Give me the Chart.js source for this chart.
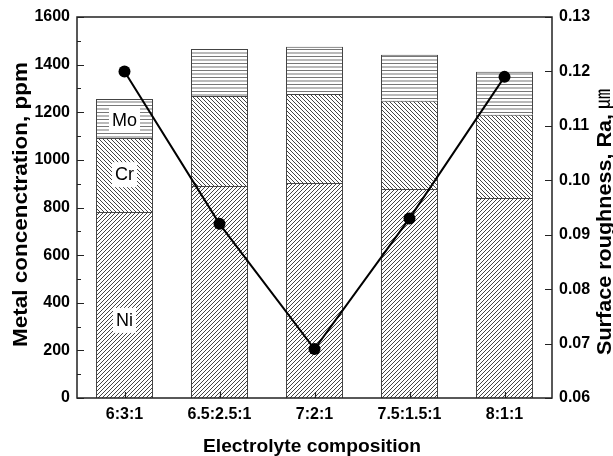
<!DOCTYPE html>
<html>
<head>
<meta charset="utf-8">
<script src="https://cdn.jsdelivr.net/npm/chart.js@4/dist/chart.umd.min.js"></script>
<style>
html,body{margin:0;padding:0;background:#fff;}
#wrap{width:613px;height:456px;position:relative;}
</style>
</head>
<body>
<div id="wrap"><canvas id="c" width="613" height="456"></canvas></div>
<script>
const categories = ['6:3:1', '6.5:2.5:1', '7:2:1', '7.5:1.5:1', '8:1:1'];
const niValues = [781, 890, 903, 878, 840];
const crValues = [311, 378, 374, 370, 349];
const moValues = [164, 198, 198, 193, 181];
const roughness = [0.120, 0.092, 0.069, 0.093, 0.119];
const leftTicks = [0, 1600, 200];
const rightTicks = [0.06, 0.13, 0.01];
const xTitle = 'Electrolyte composition';
const leftTitle = 'Metal concenctration, ppm';
const rightTitle = 'Surface roughness, Ra, ';
const rightUnit = '\u339B';
const segmentLabels = [
  {text: 'Mo', cat: 0, value: 1168},
  {text: 'Cr', cat: 0, value: 940},
  {text: 'Ni', cat: 0, value: 328}
];

function makePattern(kind) {
  const c = document.createElement('canvas');
  const ctx = c.getContext('2d');
  if (kind === 'h') {
    c.width = 4; c.height = 7;
    ctx.fillStyle = '#fff'; ctx.fillRect(0, 0, 4, 7);
    ctx.fillStyle = '#777';
    ctx.fillRect(0, 0, 4, 1);
    ctx.fillRect(0, 3.5, 4, 1);
  } else {
    c.width = 4; c.height = 4;
    ctx.fillStyle = '#fff'; ctx.fillRect(0, 0, 4, 4);
    ctx.strokeStyle = '#444'; ctx.lineWidth = 1;
    ctx.beginPath();
    if (kind === 'f') {
      ctx.moveTo(-1, 5); ctx.lineTo(5, -1);
      ctx.moveTo(-1, 1); ctx.lineTo(1, -1);
      ctx.moveTo(3, 5); ctx.lineTo(5, 3);
    } else {
      ctx.moveTo(-1, -1); ctx.lineTo(5, 5);
      ctx.moveTo(-1, 3); ctx.lineTo(1, 5);
      ctx.moveTo(3, -1); ctx.lineTo(5, 1);
    }
    ctx.stroke();
  }
  return c.getContext('2d').createPattern(c, 'repeat');
}

const FONT = '"Liberation Sans", Arial, sans-serif';

function drawRotated(ctx, text, font, baseX, startY, length) {
  ctx.save();
  ctx.font = font;
  const w = ctx.measureText(text).width;
  ctx.translate(baseX, startY);
  ctx.rotate(-Math.PI / 2);
  ctx.scale(length / w, 1);
  ctx.textAlign = 'left';
  ctx.textBaseline = 'alphabetic';
  ctx.fillStyle = '#000';
  ctx.fillText(text, 0, 0);
  ctx.restore();
}

const decor = {
  id: 'decor',
  afterDatasetsDraw(chart) {
    const ctx = chart.ctx;
    const a = chart.chartArea;
    const y = chart.scales.y, y1 = chart.scales.y1, x = chart.scales.x;
    ctx.save();
    // segment labels
    ctx.font = '18px ' + FONT;
    ctx.textAlign = 'center';
    ctx.textBaseline = 'middle';
    segmentLabels.forEach(l => {
      const px = x.getPixelForValue(l.cat);
      const py = y.getPixelForValue(l.value);
      const w = ctx.measureText(l.text).width;
      ctx.fillStyle = '#fff';
      ctx.fillRect(px - w / 2 - 3, py - 12, w + 6, 25);
      ctx.fillStyle = '#000';
      ctx.fillText(l.text, px, py + 1);
    });
    // frame
    ctx.strokeStyle = '#222';
    ctx.lineWidth = 1.5;
    ctx.strokeRect(a.left, a.top, a.right - a.left, a.bottom - a.top);
    ctx.lineWidth = 1.2;
    ctx.beginPath();
    for (let v = leftTicks[0]; v <= leftTicks[1]; v += leftTicks[2] / 2) {
      const py = Math.round(y.getPixelForValue(v)) + 0.5;
      const len = (v % leftTicks[2] === 0) ? 7 : 4;
      ctx.moveTo(a.left, py); ctx.lineTo(a.left + len, py);
    }
    for (let i = 0; i <= Math.round((rightTicks[1] - rightTicks[0]) / rightTicks[2]); i++) {
      const v = rightTicks[0] + i * rightTicks[2];
      const py = Math.round(y1.getPixelForValue(v)) + 0.5;
      ctx.moveTo(a.right, py); ctx.lineTo(a.right - 7, py);
    }
    categories.forEach((c, i) => {
      const px = Math.round(x.getPixelForValue(i)) + 0.5;
      ctx.moveTo(px, a.bottom); ctx.lineTo(px, a.bottom - 6);
    });
    ctx.stroke();
    ctx.restore();

    // axis titles
    ctx.save();
    ctx.font = 'bold 19px ' + FONT;
    ctx.fillStyle = '#000';
    ctx.textAlign = 'center';
    ctx.textBaseline = 'alphabetic';
    const xw = ctx.measureText(xTitle).width;
    ctx.translate(312, 452);
    ctx.scale(218 / xw, 1);
    ctx.fillText(xTitle, 0, 0);
    ctx.restore();

    drawRotated(ctx, leftTitle, 'bold 20px ' + FONT, 27, 347, 285);
    drawRotated(ctx, rightTitle, 'bold 20px ' + FONT, 611, 355, 247);
    ctx.save();
    ctx.font = '20px "Noto Sans CJK KR", "Noto Sans CJK SC", sans-serif';
    ctx.translate(610, 109);
    ctx.rotate(-Math.PI / 2);
    ctx.textAlign = 'left';
    ctx.textBaseline = 'alphabetic';
    ctx.fillStyle = '#000';
    ctx.fillText(rightUnit, 0, 0);
    ctx.restore();
  }
};

const tickFont = {family: FONT, size: 16, weight: 'bold'};

new Chart(document.getElementById('c'), {
  data: {
    labels: categories,
    datasets: [
      {type: 'line', label: 'Ra', data: roughness, yAxisID: 'y1', order: 0,
       borderColor: '#000', backgroundColor: '#000', borderWidth: 2,
       pointRadius: 6, pointBackgroundColor: '#000', pointBorderWidth: 0, tension: 0},
      {type: 'bar', label: 'Ni', data: niValues, yAxisID: 'y', order: 1,
       backgroundColor: makePattern('f'), borderColor: '#444', borderWidth: 1,
       barPercentage: 0.6, categoryPercentage: 1},
      {type: 'bar', label: 'Cr', data: crValues, yAxisID: 'y', order: 1,
       backgroundColor: makePattern('b'), borderColor: '#444', borderWidth: 1,
       barPercentage: 0.6, categoryPercentage: 1},
      {type: 'bar', label: 'Mo', data: moValues, yAxisID: 'y', order: 1,
       backgroundColor: makePattern('h'), borderColor: '#444', borderWidth: 1,
       barPercentage: 0.6, categoryPercentage: 1}
    ]
  },
  options: {
    responsive: false,
    animation: false,
    events: [],
    layout: {padding: {left: 0, right: 0, top: 17, bottom: 0}},
    plugins: {legend: {display: false}, tooltip: {enabled: false}},
    scales: {
      x: {
        stacked: true,
        grid: {display: false, drawTicks: false},
        border: {display: false},
        ticks: {color: '#000', font: tickFont, padding: 7},
        afterFit(s) { s.height = 58; }
      },
      y: {
        type: 'linear', position: 'left', stacked: true,
        min: leftTicks[0], max: leftTicks[1],
        grid: {display: false, drawTicks: false},
        border: {display: false},
        ticks: {stepSize: leftTicks[2], color: '#000', font: tickFont, padding: 7,
                callback: v => String(v)},
        afterFit(s) { s.width = 77; }
      },
      y1: {
        type: 'linear', position: 'right',
        min: rightTicks[0], max: rightTicks[1],
        grid: {display: false, drawTicks: false},
        border: {display: false},
        ticks: {stepSize: rightTicks[2], color: '#000', font: tickFont, padding: 7,
                callback: v => Number(v).toFixed(2)},
        afterFit(s) { s.width = 61; }
      }
    }
  },
  plugins: [decor]
});
</script>
</body>
</html>
